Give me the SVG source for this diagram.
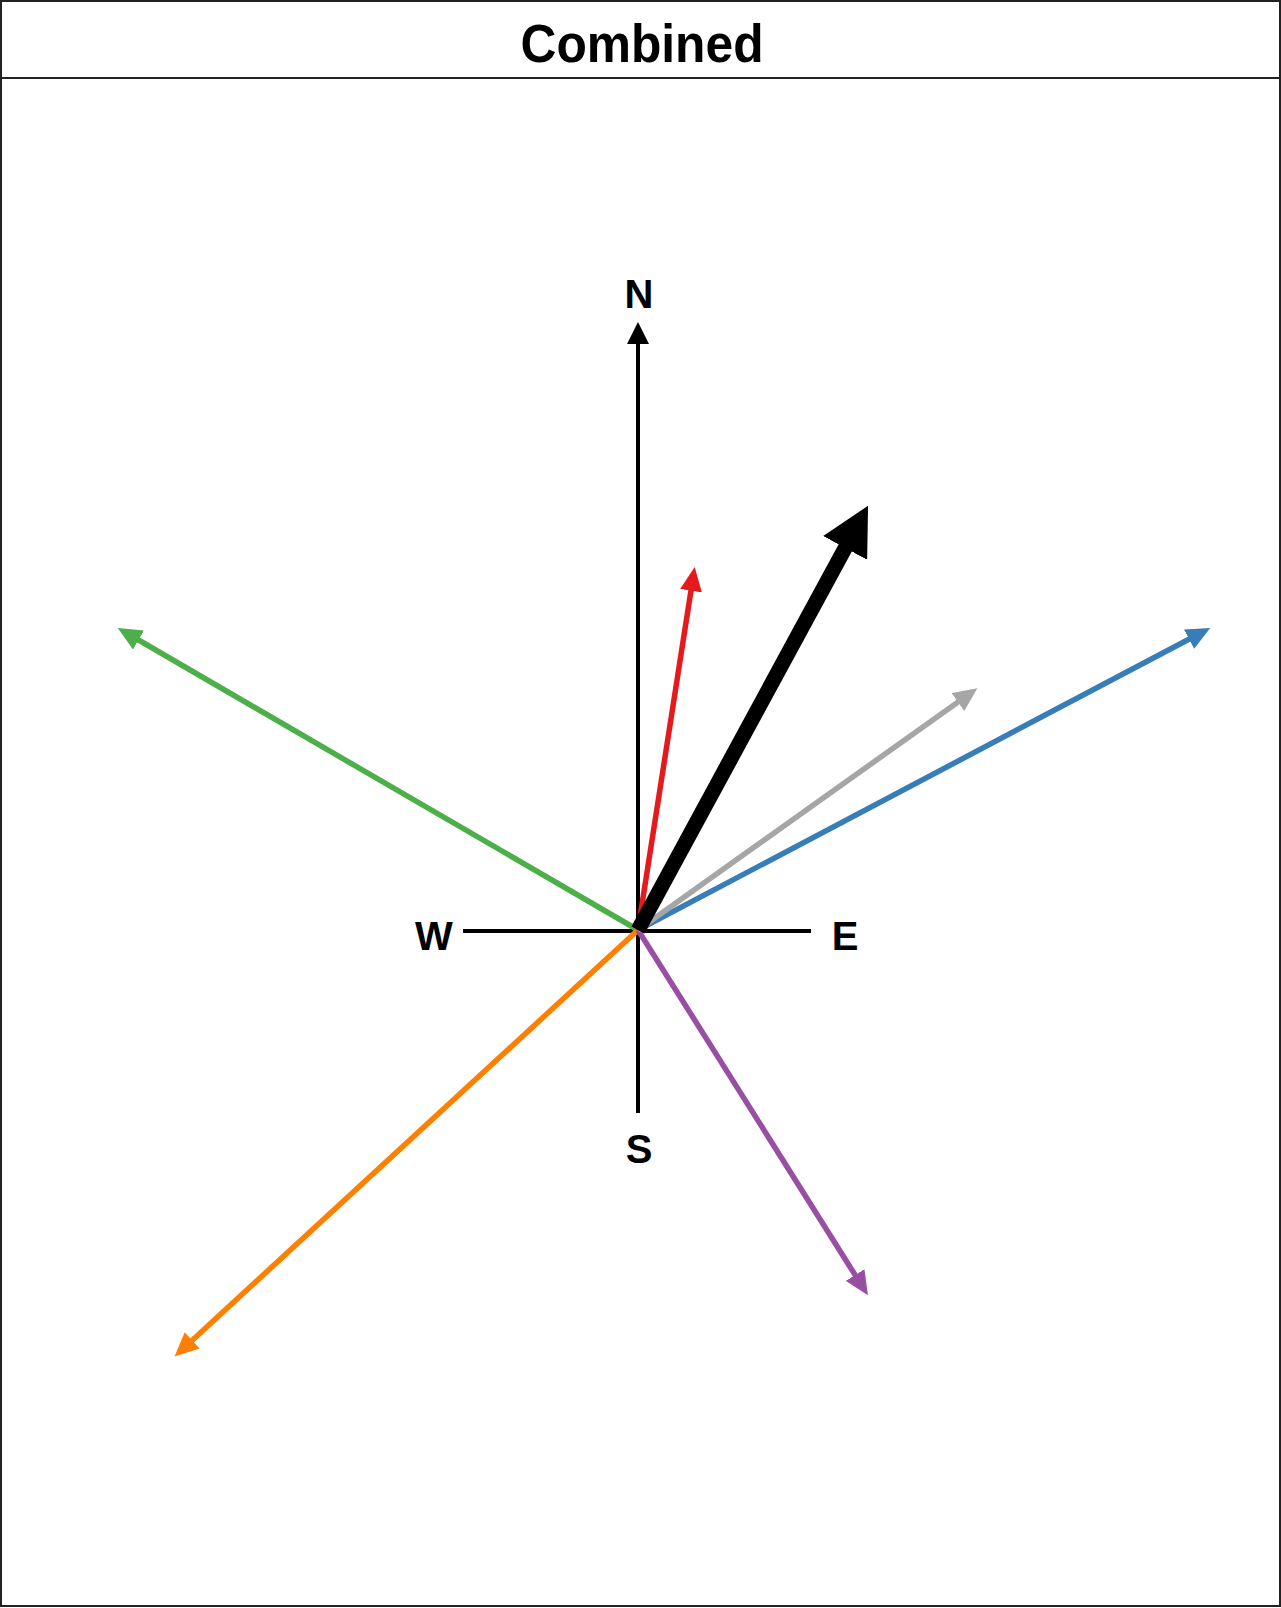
<svg xmlns="http://www.w3.org/2000/svg" width="1281" height="1608" viewBox="0 0 1281 1608">
<style>
.frame{fill:#fff;stroke:#222;stroke-width:2}
.axis{stroke:#000;stroke-width:4;fill:none}
.lbl{font-family:"Liberation Sans",Arial,sans-serif;font-weight:bold;font-size:40px;fill:#000;text-anchor:middle}
.title{font-family:"Liberation Sans",Arial,sans-serif;font-weight:bold;font-size:54px;fill:#000;text-anchor:middle}
.vec{fill:none;stroke-linecap:butt;stroke-width:5.5}
</style>
<defs>
<marker id="mAxis" markerUnits="userSpaceOnUse" viewBox="0 0 22 22" markerWidth="22" markerHeight="22" refX="2" refY="11" orient="auto"><path d="M0,0 L22,11 L0,22 z" fill="#000"/></marker>
<marker id="mRed" markerUnits="userSpaceOnUse" viewBox="0 0 24 22" markerWidth="24" markerHeight="22" refX="2" refY="11" orient="auto"><path d="M0,0 L24,11 L0,22 z" fill="#E41A1C"/></marker>
<marker id="mGray" markerUnits="userSpaceOnUse" viewBox="0 0 24 22" markerWidth="24" markerHeight="22" refX="2" refY="11" orient="auto"><path d="M0,0 L24,11 L0,22 z" fill="#A6A6A6"/></marker>
<marker id="mBlue" markerUnits="userSpaceOnUse" viewBox="0 0 24 22" markerWidth="24" markerHeight="22" refX="2" refY="11" orient="auto"><path d="M0,0 L24,11 L0,22 z" fill="#377EB8"/></marker>
<marker id="mGreen" markerUnits="userSpaceOnUse" viewBox="0 0 24 22" markerWidth="24" markerHeight="22" refX="2" refY="11" orient="auto"><path d="M0,0 L24,11 L0,22 z" fill="#4DAF4A"/></marker>
<marker id="mOrange" markerUnits="userSpaceOnUse" viewBox="0 0 24 22" markerWidth="24" markerHeight="22" refX="2" refY="11" orient="auto"><path d="M0,0 L24,11 L0,22 z" fill="#FF7F00"/></marker>
<marker id="mPurple" markerUnits="userSpaceOnUse" viewBox="0 0 24 22" markerWidth="24" markerHeight="22" refX="2" refY="11" orient="auto"><path d="M0,0 L24,11 L0,22 z" fill="#984EA3"/></marker>
<marker id="mBlack" markerUnits="userSpaceOnUse" viewBox="0 0 48 50" markerWidth="48" markerHeight="50" refX="3" refY="25" orient="auto"><path d="M0,0 L48,25 L0,50 z" fill="#000"/></marker>
</defs>
<rect class="frame" x="1" y="1" width="1279" height="1605"/>
<line x1="1" y1="78" x2="1280" y2="78" stroke="#222" stroke-width="2"/>
<text class="title" x="642" y="62" textLength="243" lengthAdjust="spacingAndGlyphs">Combined</text>

<g id="compass">
<line class="axis" x1="638" y1="1113" x2="638" y2="342" marker-end="url(#mAxis)"/>
<line class="axis" x1="463" y1="931" x2="811" y2="931"/>
<text class="lbl" x="639" y="308">N</text>
<text class="lbl" x="639" y="1163">S</text>
<text class="lbl" x="434" y="950">W</text>
<text class="lbl" x="845" y="950">E</text>
</g>

<g id="connectors">
<line class="vec" x1="638" y1="930" x2="136.8" y2="639" stroke="#4DAF4A" marker-end="url(#mGreen)"/>
<line class="vec" x1="638" y1="930" x2="190.7" y2="1341.7" stroke="#FF7F00" marker-end="url(#mOrange)"/>
<line class="vec" x1="638" y1="930" x2="856.2" y2="1276.7" stroke="#984EA3" marker-end="url(#mPurple)"/>
<line class="vec" x1="638" y1="930" x2="1190.8" y2="638.2" stroke="#377EB8" marker-end="url(#mBlue)"/>
<line class="vec" x1="638" y1="930" x2="959.5" y2="700.9" stroke="#A6A6A6" marker-end="url(#mGray)"/>
<line class="vec" x1="638" y1="930" x2="691.3" y2="588.7" stroke="#E41A1C" marker-end="url(#mRed)"/>
<line class="vec" x1="638" y1="930" x2="846.6" y2="545.3" stroke="#000" style="stroke-width:15" marker-end="url(#mBlack)"/>
</g>
</svg>
